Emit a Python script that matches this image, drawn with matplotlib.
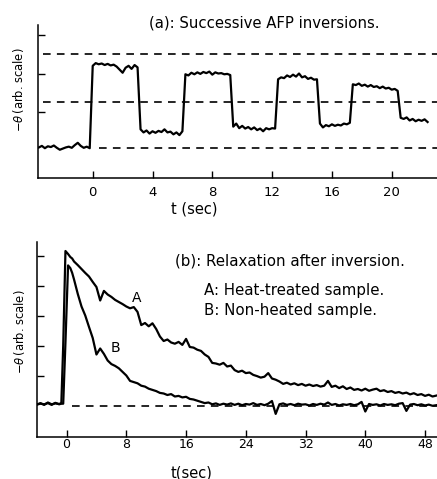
import numpy as np
import matplotlib
matplotlib.use("Agg")
import matplotlib.pyplot as plt

plt.rcParams['font.family'] = ['DejaVu Sans']
plt.rcParams['lines.scale_dashes'] = False

# ---------------- Panel (a): successive AFP inversions ----------------
a_t0, a_dt = -3.6, 0.2
a_signal = [
    # baseline (t = -3.6 .. -0.2)
    0.08, 0.12, 0.06, 0.11, 0.09, 0.13, 0.07, 0.02, 0.05, 0.08, 0.10, 0.07, 0.14, 0.20, 0.12, 0.07, 0.10, 0.06,
    # high 1 (0.0 .. 3.0)
    2.20, 2.27, 2.24, 2.26, 2.22, 2.25, 2.21, 2.23, 2.18, 2.10, 2.02, 2.15, 2.20, 2.12, 2.22, 2.16,
    # low 1 (3.2 .. 6.0)
    0.55, 0.47, 0.52, 0.44, 0.50, 0.46, 0.51, 0.48, 0.55, 0.47, 0.49, 0.42, 0.47, 0.40, 0.50,
    # high 2 (6.2 .. 9.2)
    1.98, 1.95, 2.02, 1.98, 2.03, 1.99, 2.04, 2.01, 2.05, 1.97, 2.03, 2.00, 2.01, 1.98, 1.99, 1.96,
    # low 2 (9.4 .. 12.2)
    0.62, 0.70, 0.58, 0.64, 0.57, 0.61, 0.55, 0.60, 0.53, 0.57, 0.50, 0.58, 0.55, 0.58, 0.57,
    # high 3 (12.4 .. 15.0)
    1.85, 1.90, 1.88, 1.95, 1.91, 1.97, 1.92, 2.00, 1.90, 1.93, 1.86, 1.89, 1.84, 1.85,
    # low 3 (15.2 .. 17.2)
    0.70, 0.60, 0.66, 0.63, 0.68, 0.64, 0.67, 0.65, 0.70, 0.68, 0.72,
    # high 4 (17.4 .. 20.4)
    1.72, 1.70, 1.74, 1.68, 1.71, 1.66, 1.70, 1.65, 1.67, 1.62, 1.66, 1.61, 1.63, 1.58, 1.60, 1.55,
    # low 4 (20.6 .. 22.4)
    0.85, 0.82, 0.86, 0.78, 0.82, 0.76, 0.80, 0.77, 0.81, 0.74,
]
a_ref_levels = [2.51, 1.27, 0.07]
a_ref_starts = [-3.3, -3.3, 0.4]
a_xticks = [0, 4, 8, 12, 16, 20]
a_yticks = [1, 2, 3]

# ---------------- Panel (b): relaxation after inversion ----------------
b_t_early = [-4.0, -3.5, -3.0, -2.5, -2.0, -1.5, -1.0, -0.7, -0.45, -0.15, 0.2, 0.5, 0.75]
A_early = [0.03, 0.08, 0.02, 0.10, 0.04, 0.07, 0.05, 0.08, 2.0, 5.15, 5.05, 4.95, 4.90]
B_early = [0.03, 0.06, 0.04, 0.08, 0.02, 0.09, 0.04, 0.06, 0.06, 2.1, 4.67, 4.58, 4.42]
b_t1, b_dt = 1.0, 0.5
A_late = [
    4.80, 4.68, 4.55, 4.42, 4.30, 4.12, 3.95, 3.50, 3.82, 3.70,
    3.62, 3.52, 3.45, 3.38, 3.30, 3.24, 3.28, 3.12, 2.68, 2.75,
    2.64, 2.74, 2.55, 2.30, 2.15, 2.20, 2.10, 2.06, 2.12, 2.02,
    2.22, 1.95, 1.93, 1.86, 1.82, 1.70, 1.62, 1.42, 1.40, 1.36,
    1.42, 1.30, 1.33, 1.18, 1.12, 1.16, 1.08, 1.10, 1.02, 0.98,
    0.93, 0.96, 1.08, 0.90, 0.86, 0.80, 0.72, 0.76, 0.70, 0.74,
    0.68, 0.72, 0.66, 0.70, 0.65, 0.68, 0.63, 0.66, 0.82, 0.62,
    0.66, 0.58, 0.64, 0.55, 0.60, 0.52, 0.55, 0.50, 0.56, 0.49,
    0.53, 0.56, 0.48, 0.51, 0.45, 0.48, 0.42, 0.45, 0.40, 0.43,
    0.37, 0.41, 0.35, 0.38, 0.32, 0.36, 0.30, 0.33,
]
B_late = [
    4.20, 3.72, 3.30, 3.00, 2.62, 2.25, 1.70, 1.90, 1.72, 1.50,
    1.38, 1.32, 1.24, 1.12, 1.00, 0.82, 0.78, 0.74, 0.66, 0.63,
    0.56, 0.52, 0.48, 0.42, 0.40, 0.35, 0.38, 0.30, 0.32, 0.27,
    0.29, 0.22, 0.20, 0.16, 0.12, 0.08, 0.10, 0.04, 0.07, 0.02,
    0.06, 0.03, 0.07, 0.02, 0.06, 0.01, 0.05, 0.03, 0.08, 0.02,
    0.05, 0.01, 0.06, 0.15, -0.28, 0.04, 0.07, 0.02, 0.05, 0.01,
    0.06, 0.03, 0.04, 0.00, 0.05, 0.02, 0.06, 0.03, 0.10, 0.02,
    0.05, 0.00, 0.04, 0.02, 0.05, 0.01, 0.04, 0.12, -0.20, 0.05,
    0.02, 0.04, 0.00, 0.05, 0.02, 0.04, 0.01, 0.06, 0.08, -0.18,
    0.03, 0.05, 0.01, 0.04, 0.00, 0.03, -0.01, 0.01,
]
b_ref_level = -0.02
b_ref_start = 0.7
b_xticks = [0, 8, 16, 24, 32, 40, 48]
b_yticks = [1, 2, 3, 4, 5]

# ---------------- figure ----------------
W, H = 437, 479
fig = plt.figure(figsize=(W / 100, H / 100), dpi=100)

def style(ax, xticks, yticks, pad, lsize):
    for s in ('top', 'right'):
        ax.spines[s].set_visible(False)
    for s in ('left', 'bottom'):
        ax.spines[s].set_linewidth(1.1)
    ax.set_xticks(xticks)
    ax.set_yticks(yticks)
    ax.set_yticklabels([])
    ax.tick_params(direction='in', length=5, width=1.0, pad=pad, labelsize=lsize)

lw_trace = 1.6
dash = (0, (5.5, 4.5))
ylab = r'$-\theta\,$(arb. scale)'

ax1 = fig.add_axes([38 / W, 1 - 178 / H, 399 / W, 153 / H])
t_a = a_t0 + a_dt * np.arange(len(a_signal))
ax1.plot(t_a, a_signal, color='black', lw=lw_trace)
for lev, st in zip(a_ref_levels, a_ref_starts):
    ax1.plot([st, 23.5], [lev, lev], color='black', lw=1.2, linestyle=dash)
ax1.set_xlim(-3.66, 23.03)
ax1.set_ylim(-0.714, 3.26)
style(ax1, a_xticks, a_yticks, 5.5, 9.5)
ax1.set_xlabel('t (sec)', fontsize=10.5)
ax1.xaxis.set_label_coords((194 - 38) / 399, -(209 - 178) / 153)
ax1.xaxis.label.set_va('center')
ax1.set_ylabel(ylab, fontsize=8.3)
ax1.yaxis.set_label_coords((19 - 38) / 399, (178 - 90) / 153)
ax1.yaxis.label.set_va('center')
fig.text(264 / W, 1 - 23 / H, '(a): Successive AFP inversions.', ha='center', va='center', fontsize=10.7)

ax2 = fig.add_axes([36.7 / W, 1 - 436.7 / H, 400.3 / W, 195 / H])
t_b = np.concatenate([b_t_early, b_t1 + b_dt * np.arange(len(A_late))])
t_bB = np.concatenate([b_t_early, b_t1 + b_dt * np.arange(len(B_late))])
ax2.plot([b_ref_start, 50], [b_ref_level, b_ref_level], color='black', lw=1.2, linestyle=dash)
ax2.plot(t_b, np.concatenate([A_early, A_late]), color='black', lw=lw_trace)
ax2.plot(t_bB, np.concatenate([B_early, B_late]), color='black', lw=lw_trace)
ax2.set_xlim(-4.0, 49.6)
ax2.set_ylim(-1.04, 5.46)
style(ax2, b_xticks, b_yticks, 1.2, 9)
ax2.set_xlabel('t(sec)', fontsize=10.5)
ax2.xaxis.set_label_coords((192 - 36.7) / 400.3, -(473 - 436.7) / 195)
ax2.xaxis.label.set_va('center')
ax2.set_ylabel(ylab, fontsize=8.3)
ax2.yaxis.set_label_coords((20 - 36.7) / 400.3, (436.7 - 332) / 195)
ax2.yaxis.label.set_va('center')
ax2.text(9.4, 3.58, 'A', fontsize=10, ha='center', va='center')
ax2.text(6.5, 1.92, 'B', fontsize=10, ha='center', va='center')
fig.text(175 / W, 1 - 260.5 / H, '(b): Relaxation after inversion.', ha='left', va='center', fontsize=10.8)
fig.text(203.5 / W, 1 - 290.5 / H, 'A: Heat-treated sample.', ha='left', va='center', fontsize=10.8)
fig.text(203.5 / W, 1 - 311 / H, 'B: Non-heated sample.', ha='left', va='center', fontsize=10.8)

fig.savefig('out.png', dpi=100, facecolor='white')
